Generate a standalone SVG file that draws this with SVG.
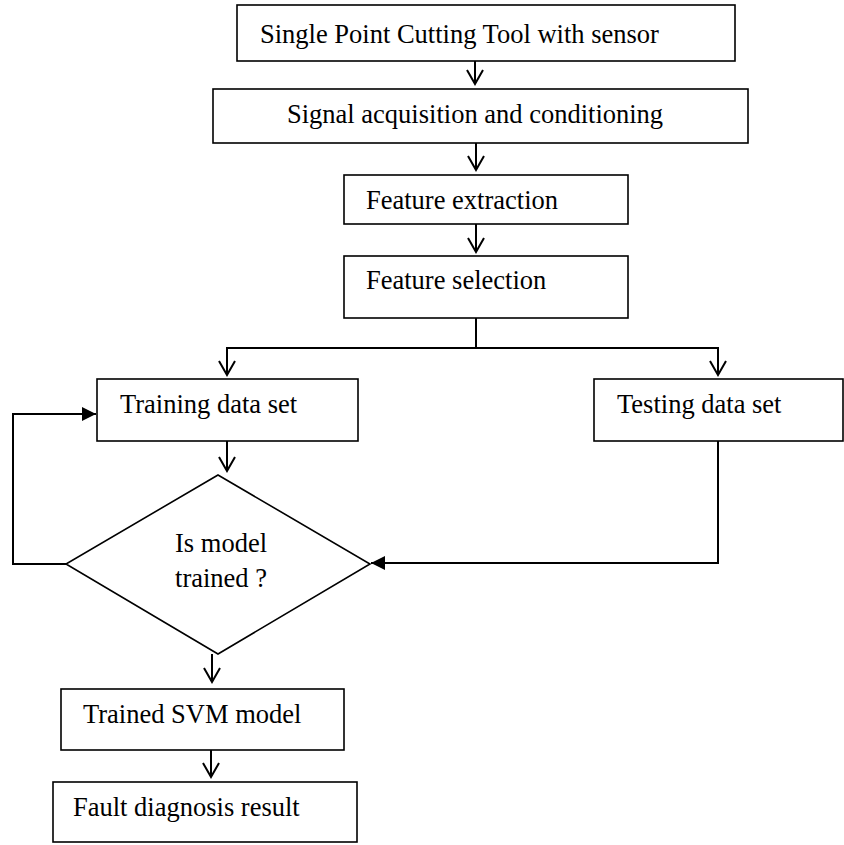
<svg xmlns="http://www.w3.org/2000/svg" width="844" height="845" viewBox="0 0 844 845">
<style>
.box{fill:#fff;stroke:#000;stroke-width:1.6}
.t{font-family:"Liberation Serif","Times New Roman",serif;font-size:26.5px;fill:#000}
.c{fill:none;stroke:#000;stroke-width:2}
</style>
<defs>
<marker id="open" viewBox="-16 -10 18 20" refX="0" refY="0" markerWidth="18" markerHeight="20" markerUnits="userSpaceOnUse" orient="auto">
<path d="M-14,-8 L0,0 L-14,8" fill="none" stroke="#000" stroke-width="2"/>
</marker>
<marker id="fill" viewBox="-16 -10 18 20" refX="0" refY="0" markerWidth="18" markerHeight="20" markerUnits="userSpaceOnUse" orient="auto">
<path d="M-14,-7 L0,0 L-14,7 Z" fill="#000"/>
</marker>
</defs>
<rect width="844" height="845" fill="#fff"/>
<g id="connectors">
<line class="c" x1="475" y1="61" x2="475" y2="84" marker-end="url(#open)"/>
<line class="c" x1="476" y1="143" x2="476" y2="170" marker-end="url(#open)"/>
<line class="c" x1="476" y1="224" x2="476" y2="252" marker-end="url(#open)"/>
<line class="c" x1="476" y1="318" x2="476" y2="348"/>
<line class="c" x1="226" y1="348" x2="719" y2="348"/>
<line class="c" x1="227" y1="348" x2="227" y2="375" marker-end="url(#open)"/>
<line class="c" x1="718" y1="348" x2="718" y2="375" marker-end="url(#open)"/>
<line class="c" x1="227" y1="441" x2="227" y2="471" marker-end="url(#open)"/>
<polyline class="c" points="66,564 13,564 13,414 96,414" marker-end="url(#fill)"/>
<polyline class="c" points="718,441 718,563 371,563" marker-end="url(#fill)"/>
<line class="c" x1="212" y1="654" x2="212" y2="682" marker-end="url(#open)"/>
<line class="c" x1="211" y1="750" x2="211" y2="777" marker-end="url(#open)"/>
</g>
<g id="n1"><rect class="box" x="237" y="5" width="498" height="56"/><text class="t" x="260" y="43">Single Point Cutting Tool with sensor</text></g>
<g id="n2"><rect class="box" x="213" y="89" width="535" height="54"/><text class="t" x="287" y="123">Signal acquisition and conditioning</text></g>
<g id="n3"><rect class="box" x="344" y="175" width="284" height="49"/><text class="t" x="366" y="209">Feature extraction</text></g>
<g id="n4"><rect class="box" x="344" y="256" width="284" height="62"/><text class="t" x="366" y="289">Feature selection</text></g>
<g id="n5"><rect class="box" x="97" y="379" width="261" height="62"/><text class="t" x="120" y="413">Training data set</text></g>
<g id="n6"><rect class="box" x="594" y="379" width="249" height="62"/><text class="t" x="617" y="413">Testing data set</text></g>
<g id="n7"><polygon class="box" points="218,475 370,564 218,654 66,564"/><text class="t" x="221" y="552" text-anchor="middle">Is model</text><text class="t" x="221" y="587" text-anchor="middle">trained ?</text></g>
<g id="n8"><rect class="box" x="61" y="689" width="283" height="61"/><text class="t" x="83" y="723">Trained SVM model</text></g>
<g id="n9"><rect class="box" x="53" y="782" width="304" height="60"/><text class="t" x="73" y="816">Fault diagnosis result</text></g>
</svg>
